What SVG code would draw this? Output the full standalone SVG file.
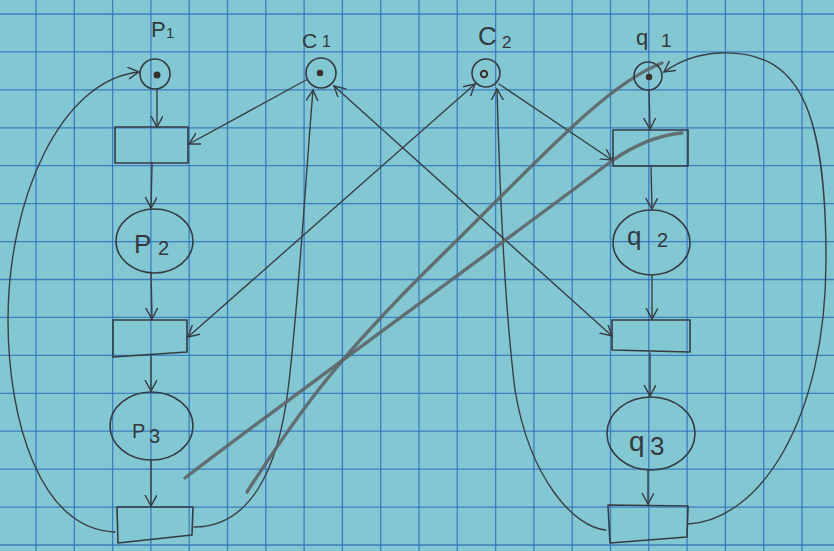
<svg xmlns="http://www.w3.org/2000/svg" width="834" height="551" viewBox="0 0 834 551">
<style>
.ink{fill:none;stroke:#363b41;stroke-width:1.6;stroke-linecap:round;stroke-linejoin:round}
.arc{fill:none;stroke:#3a3f45;stroke-width:1.4;stroke-linecap:round}
.pencil{fill:none;stroke:#5d6567;stroke-width:3.4;stroke-linecap:round;opacity:0.9}
.tok{fill:#3b2f2c}
.lb{font-family:"Liberation Sans","DejaVu Sans",sans-serif;fill:#33383e;font-size:22px}
.grid{fill:none;stroke:#2f72bd;stroke-width:1.3;opacity:0.85}
</style>
<defs>
<marker id="ah" markerUnits="userSpaceOnUse" markerWidth="16" markerHeight="16" refX="11" refY="6" orient="auto-start-reverse">
<path d="M0,0 L11,6 L0,12" fill="none" stroke="#363b41" stroke-width="1.4" stroke-linecap="round"/>
</marker>
</defs>
<rect x="0" y="0" width="834" height="551" fill="#82c7d1"/>
<g id="grid">
<path class="grid" d="M-2.3 0V551M36 0V551M74.3 0V551M112.6 0V551M150.9 0V551M189.2 0V551M227.5 0V551M265.8 0V551M304.1 0V551M342.4 0V551M380.7 0V551M419 0V551M457.3 0V551M495.6 0V551M533.9 0V551M572.2 0V551M610.5 0V551M648.8 0V551M687.1 0V551M725.4 0V551M763.7 0V551M802 0V551"/>
<path class="grid" d="M0 14H834M0 51.9H834M0 89.9H834M0 127.8H834M0 165.7H834M0 203.7H834M0 241.6H834M0 279.5H834M0 317.4H834M0 355.4H834M0 393.3H834M0 431.2H834M0 469.2H834M0 507.1H834M0 545H834"/>
</g>
<g id="connectors">
<path class="arc" d="M157,90 L157,127" marker-end="url(#ah)"/>
<path class="arc" d="M152,164 L151,208" marker-end="url(#ah)"/>
<path class="arc" d="M151,273 L152,319" marker-end="url(#ah)"/>
<path class="arc" d="M151,356 L151,391" marker-end="url(#ah)"/>
<path class="arc" d="M151,460 L151,506" marker-end="url(#ah)"/>
<path class="arc" d="M649,91 L650,129" marker-end="url(#ah)"/>
<path class="arc" d="M651,167 L652,209" marker-end="url(#ah)"/>
<path class="arc" d="M652,275 L652,319" marker-end="url(#ah)"/>
<path class="arc" d="M650,353 L650,396" marker-end="url(#ah)"/>
<path class="arc" d="M648,470 L648,504" marker-end="url(#ah)"/>
<path class="arc" d="M306,80 L189,144" marker-end="url(#ah)"/>
<path class="arc" d="M475,84 L188,337" marker-start="url(#ah)" marker-end="url(#ah)"/>
<path class="arc" d="M499,84 L612,160" marker-end="url(#ah)"/>
<path class="arc" d="M334,86 L612,336" marker-start="url(#ah)" marker-end="url(#ah)"/>
<path class="arc" d="M194,527 C250,527 278,470 288,390 C298,310 304,200 313,90" marker-end="url(#ah)"/>
<path class="arc" d="M606,530 C575,528 530,480 515,390 C505,310 500,200 497,89" marker-end="url(#ah)"/>
<path class="arc" d="M115,532 C40,530 8,420 8,320 C8,200 60,80 139,72" marker-end="url(#ah)"/>
<path class="arc" d="M688,524 C760,520 826,420 826,260 C826,110 800,50 720,53 C695,54 678,62 664,72" marker-end="url(#ah)"/>
<path class="pencil" d="M185,478 C300,390 480,260 613,160 C635,145 660,135 682,133"/>
<path class="pencil" d="M247,492 C300,410 340,355 440,257 S605,85 662,63"/>
</g>
<g id="p1">
<circle class="ink" cx="155" cy="74" r="15"/>
<circle class="tok" cx="157" cy="75" r="3.5"/>
<text class="lb"><tspan x="151" y="37">P</tspan><tspan x="166" y="38" font-size="15">1</tspan></text>
</g>
<g id="c1">
<circle class="ink" cx="321" cy="73" r="15"/>
<circle class="tok" cx="320" cy="73" r="3.2"/>
<text class="lb"><tspan x="302" y="48" font-size="21">C</tspan><tspan x="322" y="47" font-size="16">1</tspan></text>
</g>
<g id="c2">
<circle class="ink" cx="486" cy="73" r="14"/>
<circle cx="484" cy="74" r="3.2" fill="none" stroke="#3b2f2c" stroke-width="2"/>
<text class="lb"><tspan x="478" y="45" font-size="26">C</tspan><tspan x="502" y="48" font-size="17">2</tspan></text>
</g>
<g id="q1">
<circle class="ink" cx="648" cy="76" r="14"/>
<circle class="tok" cx="649" cy="77" r="3.2"/>
<text class="lb"><tspan x="636" y="45">q</tspan><tspan x="661" y="47" font-size="19">1</tspan></text>
</g>
<g id="t1"><rect class="ink" x="115" y="127" width="73" height="36"/></g>
<g id="p2">
<ellipse class="ink" cx="154.5" cy="241" rx="38.5" ry="32"/>
<text class="lb"><tspan x="134" y="253" font-size="26">P</tspan><tspan x="158" y="255" font-size="20">2</tspan></text>
</g>
<g id="t2"><polygon class="ink" points="113,320 187,320 187,352 113,357"/></g>
<g id="p3">
<ellipse class="ink" cx="151.5" cy="426" rx="41.5" ry="34"/>
<text class="lb"><tspan x="132" y="438" font-size="20">P</tspan><tspan x="149" y="443" font-size="20">3</tspan></text>
</g>
<g id="t3"><polygon class="ink" points="117,507 193,507 192,535 118,543"/></g>
<g id="u1"><rect class="ink" x="613" y="130" width="75" height="36"/></g>
<g id="q2">
<ellipse class="ink" cx="651.5" cy="242.5" rx="38.5" ry="32.5"/>
<text class="lb"><tspan x="627" y="245" font-size="26">q</tspan><tspan x="657" y="247" font-size="20">2</tspan></text>
</g>
<g id="u2"><polygon class="ink" points="612,320 690,320 690,352 612,350"/></g>
<g id="q3">
<ellipse class="ink" cx="651" cy="433.5" rx="44" ry="36.5"/>
<text class="lb"><tspan x="629" y="451" font-size="28">q</tspan><tspan x="650" y="455" font-size="26">3</tspan></text>
</g>
<g id="u3"><polygon class="ink" points="608,505 688,506 687,537 610,543"/></g>
</svg>
